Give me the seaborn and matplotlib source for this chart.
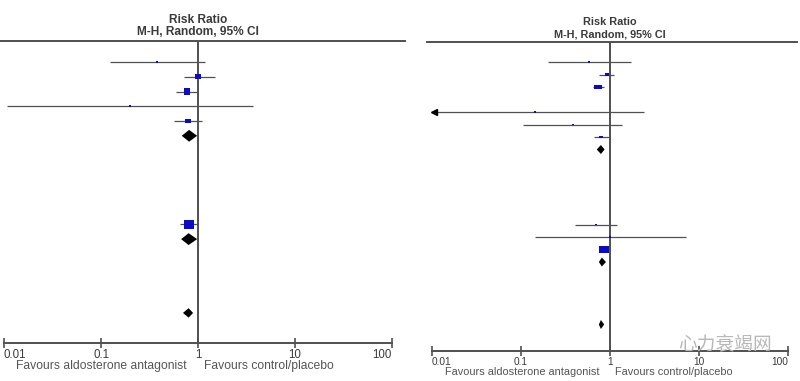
import numpy as np
import matplotlib
matplotlib.use("Agg")
import matplotlib.pyplot as plt
import matplotlib.transforms as mtransforms
import seaborn as sns

# Left forest plot - studies
left_rows = [0, 1, 2, 3, 4, 11]
left_rr = [0.38, 1.00, 0.77, 0.20, 0.79, 0.81]
left_lo = [0.124, 0.72, 0.59, 0.0107, 0.57, 0.65]
left_hi = [1.18, 1.50, 1.00, 3.69, 1.10, 1.00]
left_wt = [2, 25, 45, 1, 25, 100]

# Left forest plot - pooled diamonds
left_d_rows = [5, 12, 17]
left_d_rr = [0.81, 0.80, 0.80]
left_d_lo = [0.68, 0.67, 0.70]
left_d_hi = [0.98, 0.98, 0.89]
left_d_half = [0.40, 0.40, 0.32]

# Right forest plot - studies
right_rows = [0, 1, 2, 4, 5, 6, 13, 14, 15]
right_rr = [0.58, 0.92, 0.73, 0.144, 0.38, 0.79, 0.70, 1.00, 0.86]
right_lo = [0.20, 0.75, 0.64, 0.004, 0.105, 0.66, 0.40, 0.144, 0.77]
right_hi = [1.72, 1.11, 0.86, 2.41, 1.36, 1.00, 1.20, 7.10, 0.95]
right_wt = [1, 15, 60, 1, 1, 15, 1, 1, 95]

# Right forest plot - pooled diamonds
right_d_rows = [7, 16, 21]
right_d_rr = [0.79, 0.81, 0.79]
right_d_lo = [0.71, 0.75, 0.75]
right_d_hi = [0.87, 0.90, 0.86]
right_d_half = [0.36, 0.36, 0.36]

ticks = [0.01, 0.1, 1, 10, 100]
tick_labels = ["0.01", "0.1", "1", "10", "100"]
title1 = "Risk Ratio"
title2 = "M-H, Random, 95% CI"
fav_left = "Favours aldosterone antagonist"
fav_right = "Favours control/placebo"

sns.set_theme(style="white")
plt.rcParams["font.family"] = ["Liberation Sans", "DejaVu Sans"]

W, H = 800, 381
fig = plt.figure(figsize=(W / 100, H / 100), dpi=100)

blue = "#0a0ac8"
grey = "#505050"
text_grey = "#3a3a3a"


def panel(x0, x1, y_top, y_bot, px_dec, px_01, row_px, row0_px,
          rows, rr, lo, hi, wt, d_rows, d_rr, d_lo, d_hi, d_half,
          t1_y, t2_y, fav_y, fs_title, fs_tick, fs_fav, box_aspect):
    ax = fig.add_axes([x0 / W, 1 - y_bot / H, (x1 - x0) / W, (y_bot - y_top) / H])
    ax.set_xscale("log")
    # map pixel extents to data limits
    ax.set_xlim(10 ** (-2 - (px_01 - x0) / px_dec),
                10 ** (2 + (x1 - (px_01 + 4 * px_dec)) / px_dec))
    ax.set_ylim((y_bot - row0_px) / row_px, (y_top - row0_px) / row_px)

    ax.axvline(1, color=grey, lw=1.4, zorder=1)

    lo_c = np.clip(lo, 0.01, None)
    ax.hlines(rows, lo_c, hi, color=grey, lw=0.9, zorder=2)
    for r, l in zip(rows, lo):
        if l < 0.01:
            ax.plot(0.0105, r, marker="<", color="black", ms=4, zorder=3)

    box = [(-box_aspect, -1), (box_aspect, -1), (box_aspect, 1), (-box_aspect, 1)]
    sizes = 2 + np.array(wt) * 0.5
    sns.scatterplot(x=rr, y=rows, marker=box, s=sizes, color=blue,
                    linewidth=0, ax=ax, legend=False, zorder=4)

    for r, e, l, h, hh in zip(d_rows, d_rr, d_lo, d_hi, d_half):
        ax.fill([l, e, h, e], [r, r - hh, r, r + hh], color="black", lw=0, zorder=5)

    for s in ["left", "right"]:
        ax.spines[s].set_visible(False)
    ax.spines["top"].set_color(grey)
    ax.spines["top"].set_linewidth(1.4)
    ax.spines["bottom"].set_color(grey)
    ax.spines["bottom"].set_linewidth(1.4)
    ax.spines["bottom"].set_bounds(0.01, 100)

    ax.set_yticks([])
    ax.set_xticks(ticks)
    ax.xaxis.set_minor_locator(matplotlib.ticker.NullLocator())
    ax.set_xticklabels(tick_labels)
    ax.tick_params(axis="x", bottom=True, direction="inout", length=7,
                   width=1.2, color=grey, labelsize=fs_tick, labelcolor=text_grey, pad=0.5)
    labs = ax.get_xticklabels()
    labs[0].set_ha("left")
    labs[-1].set_ha("right")

    tr = mtransforms.blended_transform_factory(ax.transData, fig.transFigure)
    ax.text(1, 1 - t1_y / H, title1, transform=tr, ha="center", va="center",
            fontsize=fs_title, fontweight="bold", color=text_grey)
    ax.text(1, 1 - t2_y / H, title2, transform=tr, ha="center", va="center",
            fontsize=fs_title, fontweight="bold", color=text_grey)
    ax.text(0.77, 1 - fav_y / H, fav_left, transform=tr, ha="right", va="center",
            fontsize=fs_fav, color="#555555")
    ax.text(1.14, 1 - fav_y / H, fav_right, transform=tr, ha="left", va="center",
            fontsize=fs_fav, color="#555555")
    return ax


panel(0, 405, 41, 343, 97, 4, 14.76, 62,
      left_rows, left_rr, left_lo, left_hi, left_wt,
      left_d_rows, left_d_rr, left_d_lo, left_d_hi, left_d_half,
      20, 32, 366, 8.6, 8.3, 8.7, 1.1)

panel(427, 797, 42, 351, 89, 432, 12.5, 62,
      right_rows, right_rr, right_lo, right_hi, right_wt,
      right_d_rows, right_d_rr, right_d_lo, right_d_hi, right_d_half,
      22, 34.5, 372, 7.8, 7.3, 7.9, 1.6)

fig.text(678 / W, 1 - 345 / H, "心力衰竭网", fontsize=13.5, color="#b8b8b8",
         family=["Noto Sans CJK SC", "DejaVu Sans"], ha="left", va="center")

fig.savefig("out.png", dpi=100)
